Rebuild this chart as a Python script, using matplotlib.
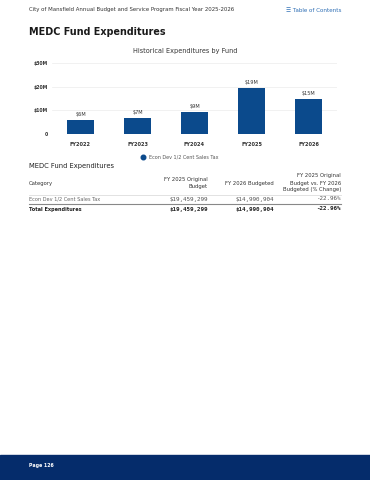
import matplotlib
matplotlib.use("Agg")
import matplotlib.pyplot as plt
from matplotlib.lines import Line2D

# ---- data ----
years = ["FY2022", "FY2023", "FY2024", "FY2025", "FY2026"]
values = [6.0, 6.8, 9.3, 19.46, 14.99]          # $M
bar_labels = ["$6M", "$7M", "$9M", "$19M", "$15M"]
yticks = [0, 10, 20, 30]
ytick_labels = ["0", "$10M", "$20M", "$30M"]
series_name = "Econ Dev 1/2 Cent Sales Tax"

tbl_header = ["Category", "FY 2025 Original\nBudget", "FY 2026 Budgeted",
              "FY 2025 Original\nBudget vs. FY 2026\nBudgeted (% Change)"]
tbl_rows = [["Econ Dev 1/2 Cent Sales Tax", "$19,459,299", "$14,990,904", "-22.96%"]]
tbl_total = ["Total Expenditures", "$19,459,299", "$14,990,904", "-22.96%"]

W, H = 370, 480
BAR = "#0b4a8c"
NAVY = "#052c6b"
FONT = "DejaVu Sans"

fig = plt.figure(figsize=(W / 100, H / 100), dpi=100)
fig.patch.set_facecolor("white")

def fx(x): return x / W
def fy(y): return 1 - y / H

# header
fig.text(fx(29), fy(10), "City of Mansfield Annual Budget and Service Program Fiscal Year 2025-2026",
         fontsize=3.9, color="#333333", va="center", family=FONT)
fig.text(fx(341), fy(11), "\u2630 Table of Contents", fontsize=4.1, color="#2f6fb5",
         va="center", ha="right", family=FONT)
fig.text(fx(29), fy(32), "MEDC Fund Expenditures", fontsize=6.9, fontweight="bold",
         color="#1a1a1a", va="center", family=FONT)

# chart
ax = fig.add_axes([fx(52), fy(134), fx(337) - fx(52), (134 - 63.3) / H])
x = range(len(years))
bars = ax.bar(x, values, width=0.47, color=BAR, zorder=3)
for xi, v, lab in zip(x, values, bar_labels):
    ax.text(xi, v + 1.3, lab, ha="center", va="bottom", fontsize=3.6, color="#333333", family=FONT)
ax.set_ylim(0, 30)
ax.set_xlim(-0.5, len(years) - 0.5)
ax.set_yticks(yticks)
ax.set_yticklabels(ytick_labels, fontsize=3.3, fontweight="bold", color="#333333", family=FONT)
ax.set_xticks(list(x))
ax.set_xticklabels(years, fontsize=3.6, fontweight="bold", color="#333333", family=FONT)
ax.tick_params(length=0)
ax.tick_params(axis="y", pad=3)
ax.tick_params(axis="x", pad=6)
for s in ax.spines.values():
    s.set_visible(False)
ax.grid(axis="y", color="#ececec", linewidth=0.5, zorder=0)
ax.axhline(0, color="#999999", linewidth=0.7, zorder=4)
ax.set_facecolor("white")

fig.text(fx(185), fy(51), "Historical Expenditures by Fund", ha="center", va="center",
         fontsize=4.7, color="#333333", family=FONT)

# legend
fig.add_artist(Line2D([fx(143)], [fy(157)], marker="o", markersize=3.3, color=BAR, linestyle=""))
fig.text(fx(149), fy(157), series_name, fontsize=3.55, color="#555555", va="center", family=FONT)

# table
fig.text(fx(29), fy(166), "MEDC Fund Expenditures", fontsize=4.9, color="#222222",
         va="center", family=FONT)
col_x = [29, 208, 274, 341]
fig.text(fx(col_x[0]), fy(183), tbl_header[0], fontsize=3.8, color="#333333",
         va="center", ha="left", family=FONT)
fig.text(fx(col_x[1]), fy(183), tbl_header[1], fontsize=3.8, color="#333333",
         va="center", ha="right", multialignment="right", family=FONT, linespacing=1.5)
fig.text(fx(col_x[2]), fy(183), tbl_header[2], fontsize=3.8, color="#333333",
         va="center", ha="right", family=FONT)
fig.text(fx(col_x[3]), fy(183), tbl_header[3], fontsize=3.8, color="#333333",
         va="center", ha="right", multialignment="right", family=FONT, linespacing=1.5)

fig.add_artist(Line2D([fx(29), fx(341)], [fy(194.5), fy(194.5)], color="#dddddd", linewidth=0.6))
row_y = 199
for row in tbl_rows:
    fig.text(fx(col_x[0]), fy(row_y), row[0], fontsize=3.6, color="#666666", va="center", family=FONT)
    for c in range(1, 4):
        fig.text(fx(col_x[c]), fy(row_y), row[c], fontsize=4.2, color="#555555",
                 va="center", ha="right", family="DejaVu Sans Mono")
    row_y += 10
fig.add_artist(Line2D([fx(29), fx(341)], [fy(204), fy(204)], color="#888888", linewidth=0.8))
fig.text(fx(col_x[0]), fy(209), tbl_total[0], fontsize=3.6, color="#222222",
         fontweight="bold", va="center", family=FONT)
for c in range(1, 4):
    fig.text(fx(col_x[c]), fy(209), tbl_total[c], fontsize=4.2, color="#222222",
             fontweight="bold", va="center", ha="right", family="DejaVu Sans Mono")

# footer
fig.add_artist(plt.Rectangle((0, 0), 1, (480 - 455) / H, transform=fig.transFigure,
                             color=NAVY, zorder=0))
fig.text(fx(29), fy(466), "Page 126", fontsize=3.4, color="white", fontweight="bold",
         va="center", family=FONT)

fig.savefig("out.png", dpi=100)
